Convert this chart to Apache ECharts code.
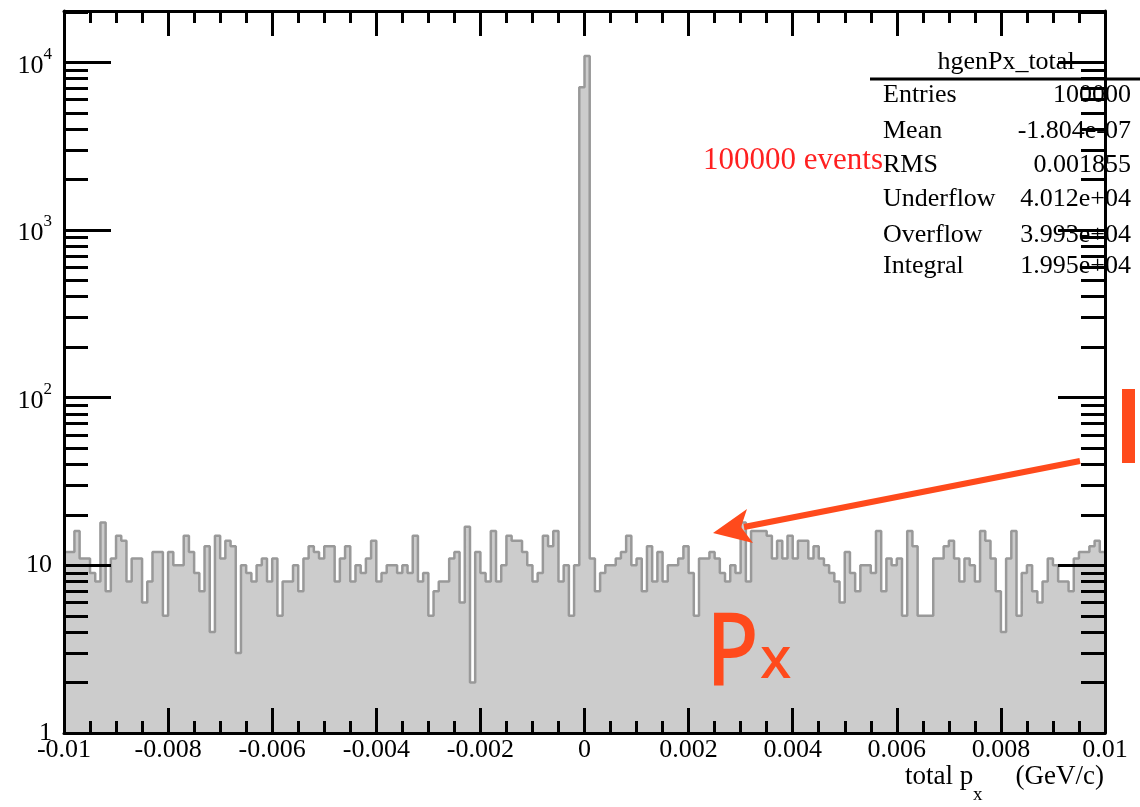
<!DOCTYPE html>
<html>
<head>
<meta charset="utf-8">
<title>hgenPx_total</title>
<script src="https://cdn.jsdelivr.net/npm/echarts@6.0.0/dist/echarts.min.js"></script>
<style>
html,body{margin:0;padding:0;background:#fff;}
#main{width:1140px;height:807px;}
</style>
</head>
<body>
<div id="main"></div>
<script>
// histogram: 200 bins from -0.01 to 0.01
var binLow = -0.01;
var binHigh = 0.01;
var binWidth = 0.0001;
var counts = [
	12, 12, 16, 11, 11, 9, 8, 18, 7, 11,
	15, 14, 8, 11, 11, 6, 8, 12, 12, 5,
	12, 10, 10, 15, 12, 9, 7, 13, 4, 15,
	11, 14, 13, 3, 10, 9, 8, 10, 11, 8,
	11, 5, 8, 8, 10, 7, 11, 13, 12, 11,
	13, 13, 8, 11, 13, 8, 10, 9, 11, 14,
	8, 9, 10, 10, 9, 10, 9, 15, 8, 9,
	5, 7, 8, 8, 11, 12, 6, 17, 2, 12,
	9, 8, 16, 8, 10, 15, 14, 14, 12, 10,
	8, 9, 15, 13, 16, 8, 10, 5, 10, 7100,
	10900, 11, 7, 9, 10, 10, 11, 12, 15, 10,
	11, 7, 13, 8, 12, 8, 10, 10, 11, 13,
	9, 5, 11, 11, 12, 11, 9, 8, 10, 9,
	18, 8, 16, 16, 16, 15, 11, 14, 11, 15,
	11, 14, 14, 11, 13, 11, 10, 9, 8, 6,
	12, 9, 7, 10, 10, 9, 16, 7, 11, 10,
	11, 5, 16, 13, 5, 5, 5, 11, 11, 13,
	14, 11, 8, 11, 10, 8, 16, 14, 11, 7,
	4, 11, 16, 5, 9, 10, 7, 6, 8, 11,
	10, 8, 8, 7, 11, 12, 12, 13, 14, 12
];

var yMajorTicks = [1, 10, 100, 1000, 10000];
var yMinorTicks = [];
for (var d = 1; d <= 10000; d *= 10) {
	for (var k = 2; k <= 9; k++) {
		if (k * d <= 20240) yMinorTicks.push(k * d);
	}
}

var statsTitle = 'hgenPx_total';
var statsLabels = ['Entries', 'Mean', 'RMS', 'Underflow', 'Overflow', 'Integral'];
var statsValues = ['100000', '-1.804e-07', '0.001855', '4.012e+04', '3.993e+04', '1.995e+04'];

// step outline from bin lower edges
var stepData = counts.map(function (c, i) {
	return [binLow + i * binWidth, c];
});
stepData.push([binHigh, counts[counts.length - 1]]);

var serif = '"Liberation Serif", "Times New Roman", serif';
var orange = '#ff4a1c';

function xAxisDef(pos, showLabel) {
	return {
		type: 'value', position: pos, min: binLow, max: binHigh, interval: 0.002, z: 10,
		axisLine: {show: true, onZero: false, lineStyle: {color: '#000', width: 3}},
		axisTick: {show: true, inside: true, length: 25, lineStyle: {color: '#000', width: 3}},
		minorTick: {show: true, splitNumber: 4, length: 12, lineStyle: {color: '#000', width: 3}},
		splitLine: {show: false},
		axisLabel: {
			show: showLabel, margin: 4, color: '#000', fontSize: 26, fontFamily: serif,
			showMinLabel: true, showMaxLabel: true,
			formatter: function (v) { return String(Number(v.toFixed(4))); }
		}
	};
}

function yAxisDef(pos, ticks, len, showLine, showLabel) {
	return {
		type: 'log', logBase: 10, position: pos, min: 1, max: 20240, z: 10,
		axisLine: {show: showLine, onZero: false, lineStyle: {color: '#000', width: 3}},
		axisTick: {show: true, inside: true, length: len, customValues: ticks, lineStyle: {color: '#000', width: 3}},
		splitLine: {show: false},
		axisLabel: {
			show: showLabel, customValues: ticks, margin: 12, color: '#000',
			formatter: function (v) {
				var e = Math.round(Math.log10(v));
				if (e === 0) return '{b|1}';
				if (e === 1) return '{b|10}';
				return '{b|10}{s|' + e + '}';
			},
			rich: {
				b: {fontSize: 26, fontFamily: serif, color: '#000', verticalAlign: 'bottom'},
				s: {fontSize: 17, fontFamily: serif, color: '#000', verticalAlign: 'top', padding: [0, 0, 16, 0]}
			}
		}
	};
}

var graphics = [];
graphics.push({type: 'text', z: 3, style: {x: 1006, y: 62, text: statsTitle, fill: '#000', font: '26px ' + serif, align: 'center', verticalAlign: 'middle'}});
graphics.push({type: 'line', z: 3, shape: {x1: 870, y1: 79, x2: 1140, y2: 79}, style: {stroke: '#000', lineWidth: 3}});
var rowY = [95, 131, 165, 199, 235, 266];
statsLabels.forEach(function (lab, i) {
	graphics.push({type: 'text', z: 3, style: {x: 883, y: rowY[i], text: lab, fill: '#000', font: '26px ' + serif, align: 'left', verticalAlign: 'middle'}});
	graphics.push({type: 'text', z: 3, style: {x: 1131, y: rowY[i], text: statsValues[i], fill: '#000', font: '26px ' + serif, align: 'right', verticalAlign: 'middle'}});
});
graphics.push({type: 'text', z: 3, style: {x: 883, y: 161, text: '100000 events', fill: '#ff2020', font: '31px ' + serif, align: 'right', verticalAlign: 'middle'}});

// axis title
graphics.push({type: 'text', z: 3, style: {x: 905, y: 777, text: 'total p', fill: '#000', font: '27px ' + serif, align: 'left', verticalAlign: 'middle'}});
graphics.push({type: 'text', z: 3, style: {x: 973, y: 795, text: 'x', fill: '#000', font: '19px ' + serif, align: 'left', verticalAlign: 'middle'}});
graphics.push({type: 'text', z: 3, style: {x: 1104, y: 777, text: '(GeV/c)', fill: '#000', font: '27px ' + serif, align: 'right', verticalAlign: 'middle'}});

// hand-drawn annotations
graphics.push({type: 'line', z: 100, shape: {x1: 1080, y1: 461, x2: 744, y2: 527}, style: {stroke: orange, lineWidth: 6}});
graphics.push({type: 'polygon', z: 100, shape: {points: [[713, 533], [747, 509], [741, 527], [753, 543]]}, style: {fill: orange}});
graphics.push({type: 'rect', z: 100, shape: {x: 1122, y: 389, width: 13, height: 74}, style: {fill: orange}});
graphics.push({type: 'text', z: 100, scaleX: 0.85, x: 706, y: 657, style: {x: 0, y: 0, text: 'P', fill: orange, font: '500 102px "Noto Sans", sans-serif', align: 'left', verticalAlign: 'middle'}});
graphics.push({type: 'text', z: 100, style: {x: 760, y: 661, text: 'x', fill: orange, font: '500 58px "Noto Sans", sans-serif', align: 'left', verticalAlign: 'middle'}});

var dom = document.getElementById('main');
var myChart = echarts.init(dom, null, {renderer: 'canvas'});
var option = {
	animation: false,
	backgroundColor: '#fff',
	grid: {left: 64, right: 35, top: 11, bottom: 74, containLabel: false},
	xAxis: [xAxisDef('bottom', true), xAxisDef('top', false)],
	yAxis: [
		yAxisDef('left', yMajorTicks, 47, true, true),
		yAxisDef('left', yMinorTicks, 24, false, false),
		yAxisDef('right', yMajorTicks, 47, true, false),
		yAxisDef('right', yMinorTicks, 24, false, false)
	],
	series: [{
		name: 'hgenPx_total',
		type: 'line',
		step: 'end',
		xAxisIndex: 0,
		yAxisIndex: 0,
		data: stepData,
		showSymbol: false,
		symbol: 'none',
		silent: true,
		lineStyle: {color: '#999999', width: 2.5},
		areaStyle: {color: '#cccccc', opacity: 1, origin: 'start'},
		z: 2
	}],
	graphic: graphics
};
myChart.setOption(option);
</script>
</body>
</html>
